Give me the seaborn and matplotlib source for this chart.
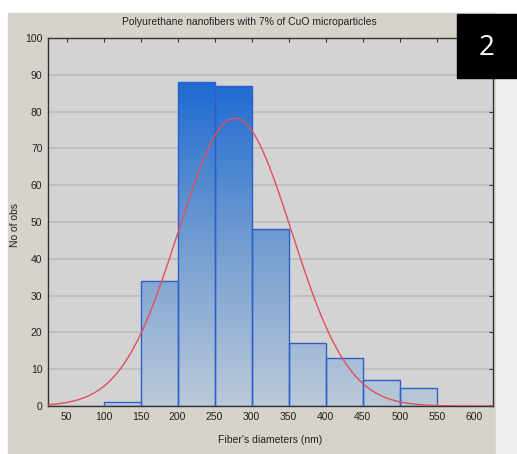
import numpy as np
import matplotlib
matplotlib.use("Agg")
import matplotlib.pyplot as plt
from matplotlib.patches import Rectangle
from matplotlib.colors import LinearSegmentedColormap
import seaborn as sns

# histogram
bin_edges = [100, 150, 200, 250, 300, 350, 400, 450, 500, 550]
counts = [1, 34, 88, 87, 48, 17, 13, 7, 5]
x_ticks = [50, 100, 150, 200, 250, 300, 350, 400, 450, 500, 550, 600]
y_ticks = [0, 10, 20, 30, 40, 50, 60, 70, 80, 90, 100]

title = "Polyurethane nanofibers with 7% of CuO microparticles"
x_label = "Fiber's diameters (nm)"
y_label = "No of obs"

mids = [(a + b) / 2 for a, b in zip(bin_edges[:-1], bin_edges[1:])]

sns.set_style("white")
plt.rcParams['font.family'] = ['Liberation Sans Narrow', 'Liberation Sans', 'DejaVu Sans']

fig = plt.figure(figsize=(5.17, 4.54), dpi=100, facecolor="white")
# beige window panel + light strip at the right
fig.patches.append(Rectangle((8 / 517, 0), 489 / 517, 1 - 13 / 454,
                             transform=fig.transFigure, color="#d6d3cb", zorder=-10))
fig.patches.append(Rectangle((496 / 517, 0), 21 / 517, 1 - 13 / 454,
                             transform=fig.transFigure, color="#eeeeee", zorder=-10))

ax = fig.add_axes([48 / 517, 1 - 406 / 454, 445 / 517, 368 / 454])
ax.set_facecolor("#d3d3d3")

sns.histplot(x=mids, weights=counts, bins=bin_edges, ax=ax,
             color="#2a5fcc", edgecolor="#2a5fcc", linewidth=1.0, alpha=1)

# vertical gradient fill in data y, clipped to each bar
cmap = LinearSegmentedColormap.from_list("bars", ["#bccad9", "#6f9bd0", "#1666d2"])
grad = np.linspace(0, 1, 256).reshape(-1, 1)
for p in ax.patches:
    p.set_facecolor("none")
    p.set_zorder(3)
    im = ax.imshow(grad, cmap=cmap, aspect="auto", origin="lower",
                   extent=(25, 626, 0, 92), zorder=2, vmin=0, vmax=1)
    im.set_clip_path(p)
ax.set_xlim(25, 626)
ax.set_ylim(0, 100)

# normal fit from the binned data
n = sum(counts)
mean = sum(m * c for m, c in zip(mids, counts)) / n
sd = np.sqrt(sum(c * (m - mean) ** 2 for m, c in zip(mids, counts)) / n)
xs = np.linspace(25, 626, 400)
ys = n * 50 / (sd * np.sqrt(2 * np.pi)) * np.exp(-0.5 * ((xs - mean) / sd) ** 2)
sns.lineplot(x=xs, y=ys, ax=ax, color="#e0505a", linewidth=1.0, zorder=4)

ax.set_xticks(x_ticks)
ax.set_yticks(y_ticks)
ax.yaxis.grid(True, color="#bdbdbd", linewidth=1.2)
ax.set_axisbelow(True)
ax.tick_params(axis="both", direction="in", length=3, width=0.8, color="#333333",
               labelsize=7.5, labelcolor="#222222", top=True, right=True, pad=4)
for s in ax.spines.values():
    s.set_color("#333333")
    s.set_linewidth(1.0)
ax.set_xlabel("")
ax.set_ylabel("")

fig.text(249 / 517, 1 - 22 / 454, title, ha="center", va="center", fontsize=7.5, color="#222222")
fig.text(270 / 517, 1 - 440 / 454, x_label, ha="center", va="center", fontsize=7.5, color="#222222")
fig.text(15 / 517, 1 - 225 / 454, y_label, ha="center", va="center", rotation=90, fontsize=7.5,
         color="#222222")

# black label box at top right
fig.patches.append(Rectangle((457 / 517, 1 - 78 / 454), 60 / 517, 64 / 454,
                             transform=fig.transFigure, color="black", zorder=10))
fig.text(487 / 517, 1 - 48 / 454, "2", ha="center", va="center", fontsize=20, color="white",
         family=["Open Sans", "DejaVu Sans"], zorder=11)

fig.savefig("out.png", dpi=100)
